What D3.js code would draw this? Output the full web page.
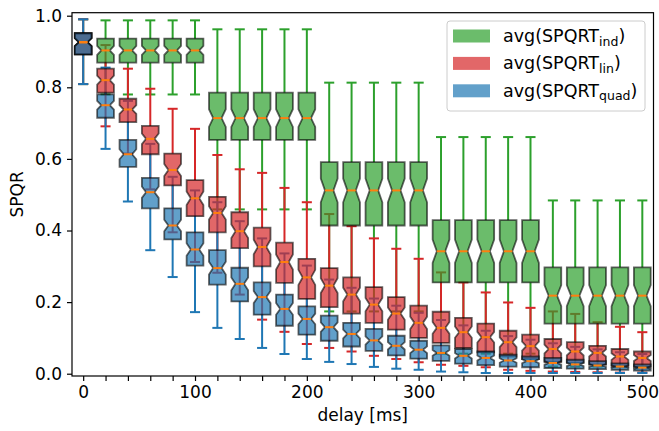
<!DOCTYPE html>
<html><head><meta charset="utf-8">
<script src="https://cdn.jsdelivr.net/npm/d3@7/dist/d3.min.js"></script>
<style>body{margin:0;background:#fff}svg{display:block}</style>
</head><body>
<svg id="c" width="659" height="431"></svg>
<script>
// ---- data ----
const delays = [0,20,40,60,80,100,120,140,160,180,200,220,240,260,280,300,320,340,360,380,400,420,440,460,480,500];
const xTickLabels = [0,100,200,300,400,500];
const yTicks = [0.0,0.2,0.4,0.6,0.8,1.0];

const seriesNames = ["ind","lin","quad"];

const indLow  = [0.809,0.780,0.780,0.780,0.780,0.780,0.459,0.459,0.459,0.459,0.459,0.174,0.174,0.174,0.174,0.174,0.056,0.056,0.056,0.056,0.056,0.020,0.020,0.020,0.020,0.020];
const indQ1   = [0.892,0.869,0.869,0.869,0.869,0.869,0.653,0.653,0.653,0.653,0.653,0.414,0.414,0.414,0.414,0.414,0.255,0.255,0.255,0.255,0.255,0.140,0.140,0.140,0.140,0.140];
const indMed  = [0.926,0.903,0.903,0.903,0.903,0.903,0.714,0.714,0.714,0.714,0.714,0.512,0.512,0.512,0.512,0.512,0.342,0.342,0.342,0.342,0.342,0.218,0.218,0.218,0.218,0.218];
const indQ3   = [0.951,0.936,0.936,0.936,0.936,0.936,0.785,0.785,0.785,0.785,0.785,0.591,0.591,0.591,0.591,0.591,0.429,0.429,0.429,0.429,0.429,0.297,0.297,0.297,0.297,0.297];
const indHigh = [0.990,0.987,0.987,0.987,0.987,0.987,0.962,0.962,0.962,0.962,0.962,0.813,0.813,0.813,0.813,0.813,0.661,0.661,0.661,0.661,0.661,0.484,0.484,0.484,0.484,0.484];

const linLow  = [0.809,0.691,0.615,0.515,0.395,0.312,0.282,0.221,0.151,0.117,0.083,0.072,0.062,0.050,0.041,0.032,0.025,0.022,0.018,0.011,0.008,0.006,0.005,0.004,0.003,0.003];
const linQ1   = [0.892,0.785,0.703,0.613,0.526,0.440,0.395,0.351,0.300,0.254,0.209,0.186,0.168,0.142,0.123,0.100,0.086,0.072,0.060,0.048,0.041,0.032,0.030,0.025,0.020,0.018];
const linMed  = [0.926,0.820,0.738,0.656,0.569,0.490,0.449,0.398,0.354,0.312,0.269,0.246,0.221,0.193,0.168,0.142,0.128,0.116,0.102,0.088,0.077,0.069,0.062,0.058,0.048,0.044];
const linQ3   = [0.951,0.852,0.768,0.692,0.615,0.541,0.494,0.451,0.408,0.366,0.321,0.295,0.269,0.242,0.214,0.190,0.173,0.156,0.140,0.120,0.109,0.097,0.088,0.078,0.069,0.062];
const linHigh = [0.990,0.918,0.852,0.796,0.740,0.684,0.611,0.571,0.561,0.519,0.479,0.446,0.412,0.378,0.349,0.321,0.283,0.255,0.227,0.199,0.184,0.174,0.167,0.144,0.131,0.116];

const quadLow  = [0.809,0.628,0.481,0.345,0.270,0.172,0.128,0.097,0.072,0.055,0.041,0.033,0.027,0.019,0.014,0.011,0.006,0.004,0.002,0.002,0.002,0.002,0.002,0.002,0.002,0.002];
const quadQ1   = [0.892,0.715,0.578,0.462,0.375,0.302,0.249,0.202,0.165,0.134,0.109,0.092,0.076,0.064,0.051,0.042,0.036,0.028,0.024,0.020,0.018,0.016,0.014,0.013,0.011,0.009];
const quadMed  = [0.926,0.750,0.613,0.507,0.414,0.347,0.295,0.251,0.214,0.181,0.153,0.130,0.111,0.093,0.078,0.067,0.058,0.050,0.044,0.037,0.035,0.030,0.026,0.023,0.020,0.017];
const quadQ3   = [0.951,0.780,0.653,0.547,0.462,0.395,0.345,0.296,0.255,0.221,0.188,0.162,0.142,0.125,0.106,0.092,0.079,0.069,0.062,0.053,0.048,0.044,0.039,0.035,0.029,0.026];
const quadHigh = [0.990,0.855,0.762,0.642,0.550,0.512,0.479,0.426,0.378,0.336,0.302,0.263,0.240,0.210,0.190,0.170,0.150,0.135,0.120,0.105,0.095,0.085,0.075,0.068,0.060,0.055];

const sampleSize = 70; // used for notch (median +/- 1.57*IQR/sqrt(n))

// ---- build ----
const colors = {ind:"#2ca02c", lin:"#d62728", quad:"#1f77b4"};
const table = {
  ind:  {low:indLow, q1:indQ1, med:indMed, q3:indQ3, high:indHigh},
  lin:  {low:linLow, q1:linQ1, med:linMed, q3:linQ3, high:linHigh},
  quad: {low:quadLow, q1:quadQ1, med:quadMed, q3:quadQ3, high:quadHigh}
};
const series = seriesNames.map(name => ({
  name, color: colors[name],
  boxes: delays.map((d,i) => ({d, low:table[name].low[i], q1:table[name].q1[i], med:table[name].med[i], q3:table[name].q3[i], high:table[name].high[i]}))
}));

const svg = d3.select("#c");
const FONT = "DejaVu Sans, sans-serif";
const L = 72, R = 653.5, T = 12.7, B = 376;
const x = d3.scaleLinear().domain([-10,510]).range([L,R]);
const y = d3.scaleLinear().domain([-0.0064,1.0084]).range([B,T]);

const boxW = 15;   // in data units (ms)
const capW = 9;

const plot = svg.append("g");

// whiskers + caps (all series)
series.forEach(s => {
  const g = plot.append("g").attr("stroke", s.color).attr("stroke-width",2).attr("fill","none");
  s.boxes.forEach(b => {
    g.append("line").attr("x1",x(b.d)).attr("x2",x(b.d)).attr("y1",y(b.q3)).attr("y2",y(b.high));
    g.append("line").attr("x1",x(b.d)).attr("x2",x(b.d)).attr("y1",y(b.q1)).attr("y2",y(b.low));
    g.append("line").attr("x1",x(b.d-capW/2)).attr("x2",x(b.d+capW/2)).attr("y1",y(b.high)).attr("y2",y(b.high));
    g.append("line").attr("x1",x(b.d-capW/2)).attr("x2",x(b.d+capW/2)).attr("y1",y(b.low)).attr("y2",y(b.low));
  });
});

// notched boxes
function boxPath(b){
  const n = 1.57*(b.q3-b.q1)/Math.sqrt(sampleSize);
  const lo = b.med - n, hi = b.med + n;
  const l = x(b.d-boxW/2), r = x(b.d+boxW/2), cl = x(b.d-boxW/4), cr = x(b.d+boxW/4);
  const p = d3.path();
  p.moveTo(l,y(b.q1)); p.lineTo(r,y(b.q1)); p.lineTo(r,y(lo)); p.lineTo(cr,y(b.med));
  p.lineTo(r,y(hi)); p.lineTo(r,y(b.q3)); p.lineTo(l,y(b.q3)); p.lineTo(l,y(hi));
  p.lineTo(cl,y(b.med)); p.lineTo(l,y(lo)); p.closePath();
  return p.toString();
}
series.forEach(s => {
  plot.append("g").selectAll("path").data(s.boxes).join("path")
    .attr("d", boxPath)
    .attr("fill", s.color).attr("fill-opacity",0.7)
    .attr("stroke","#000").attr("stroke-opacity",0.6).attr("stroke-width",1.8)
    .attr("stroke-linejoin","miter");
});
// medians
series.forEach(s => {
  plot.append("g").selectAll("line").data(s.boxes).join("line")
    .attr("x1", b => x(b.d-boxW/4)).attr("x2", b => x(b.d+boxW/4))
    .attr("y1", b => y(b.med)).attr("y2", b => y(b.med))
    .attr("stroke","#ff7f0e").attr("stroke-width",2);
});

// axes
const yAxis = svg.append("g").attr("transform",`translate(${L},0)`)
  .call(d3.axisLeft(y).tickValues(yTicks).tickFormat(d3.format(".1f")).tickSize(5).tickPadding(5));
const xAxis = svg.append("g").attr("transform",`translate(0,${B})`)
  .call(d3.axisBottom(x).tickValues(delays).tickFormat(d => xTickLabels.includes(d) ? d : "").tickSize(5).tickPadding(5));
[yAxis,xAxis].forEach(a => {
  a.select(".domain").remove();
  a.selectAll("line").attr("stroke","#000").attr("stroke-width",1.2);
  a.selectAll("text").attr("font-family",FONT).attr("font-size",17).attr("fill","#000");
});
svg.append("rect").attr("x",L).attr("y",T).attr("width",R-L).attr("height",B-T)
  .attr("fill","none").attr("stroke","#000").attr("stroke-width",1.2);

svg.append("text").attr("x",(L+R)/2).attr("y",421).attr("text-anchor","middle")
  .attr("font-family",FONT).attr("font-size",17).text("delay [ms]");
svg.append("text").attr("transform",`translate(23,${(T+B)/2}) rotate(-90)`).attr("text-anchor","middle")
  .attr("font-family",FONT).attr("font-size",17).text("SPQR");

// legend
const lg = svg.append("g");
lg.append("rect").attr("x",447).attr("y",21).attr("width",198).attr("height",90).attr("rx",3)
  .attr("fill","#fff").attr("fill-opacity",0.8).attr("stroke","#cccccc").attr("stroke-width",1);
series.forEach((s,i) => {
  const cy = 36 + i*27.4;
  lg.append("rect").attr("x",453).attr("y",cy-6.5).attr("width",37).attr("height",13)
    .attr("fill",s.color).attr("fill-opacity",0.7);
  const t = lg.append("text").attr("x",503).attr("y",cy+6).attr("font-family",FONT).attr("font-size",17.5);
  t.append("tspan").text("avg(SPQRT");
  t.append("tspan").attr("font-size",12.5).attr("dy",3.5).text(s.name);
  t.append("tspan").attr("dy",-3.5).text(")");
});
</script>
</body></html>
